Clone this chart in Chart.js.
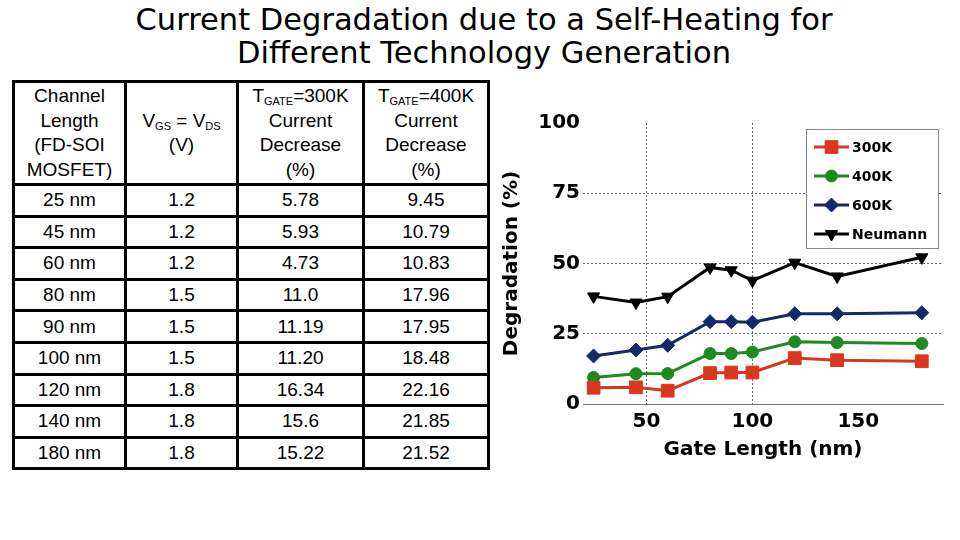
<!DOCTYPE html>
<html>
<head>
<meta charset="utf-8">
<script src="https://cdn.jsdelivr.net/npm/chart.js@4.4.3/dist/chart.umd.min.js"></script>
<style>
  html, body { margin: 0; padding: 0; background: #fff; }
  body { width: 960px; height: 540px; position: relative; overflow: hidden; }
  #title {
    position: absolute; left: 0; top: 3px; width: 968px;
    text-align: center; font-family: "Comic Sans MS", "DejaVu Sans", sans-serif;
    font-size: 30.5px; line-height: 33px; color: #000;
  }
  #tbl {
    position: absolute; left: 12px; top: 80px;
    border-collapse: collapse; font-family: "Liberation Sans", Arial, sans-serif;
    font-size: 19px; color: #000; table-layout: fixed;
  }
  #tbl td, #tbl th {
    border: 3px solid #000; text-align: center; padding: 0; font-weight: normal;
  }
  #tbl th { height: 100px; line-height: 24.5px; vertical-align: middle; }
  #tbl td { height: 28.6px; line-height: 22px; }
  #tbl sub { font-size: 11px; vertical-align: -3px; line-height: 0; }
  #wrap { position: absolute; left: 500px; top: 90px; width: 460px; height: 380px; }
</style>
</head>
<body>
<div id="title">Current Degradation due to a Self-Heating for<br>Different Technology Generation</div>

<table id="tbl">
  <colgroup><col style="width:112px"><col style="width:112px"><col style="width:126px"><col style="width:125px"></colgroup>
  <thead>
    <tr>
      <th>Channel<br>Length<br>(FD-SOI<br>MOSFET)</th>
      <th>V<sub>GS</sub> = V<sub>DS</sub><br>(V)</th>
      <th>T<sub>GATE</sub>=300K<br>Current<br>Decrease<br>(%)</th>
      <th>T<sub>GATE</sub>=400K<br>Current<br>Decrease<br>(%)</th>
    </tr>
  </thead>
  <tbody id="rows"></tbody>
</table>

<div id="wrap"><canvas id="myChart"></canvas></div>

<script>
// table / chart data
const channelLabels = ['25 nm', '45 nm', '60 nm', '80 nm', '90 nm', '100 nm', '120 nm', '140 nm', '180 nm']
const vgsLabels = ['1.2', '1.2', '1.2', '1.5', '1.5', '1.5', '1.8', '1.8', '1.8']
const decrease300Labels = ['5.78', '5.93', '4.73', '11.0', '11.19', '11.20', '16.34', '15.6', '15.22']
const decrease400Labels = ['9.45', '10.79', '10.83', '17.96', '17.95', '18.48', '22.16', '21.85', '21.52']

const gateLength = [25, 45, 60, 80, 90, 100, 120, 140, 180]
const deg300 = [5.78, 5.93, 4.73, 11.0, 11.19, 11.20, 16.34, 15.6, 15.22]
const deg400 = [9.45, 10.79, 10.83, 17.96, 17.95, 18.48, 22.16, 21.85, 21.52]
const deg600 = [17.1, 19.2, 20.9, 29.3, 29.3, 29.1, 32.1, 32.1, 32.5]
const degNeumann = [38.3, 36.1, 38.2, 48.6, 47.6, 43.9, 50.3, 45.4, 52.2]

const xTicks = [50, 100, 150]
const yTicks = [0, 25, 50, 75, 100]

const tbody = document.getElementById('rows')
channelLabels.forEach((c, i) => {
  const tr = document.createElement('tr')
  ;[c, vgsLabels[i], decrease300Labels[i], decrease400Labels[i]].forEach(t => {
    const td = document.createElement('td')
    td.textContent = t
    tr.appendChild(td)
  })
  tbody.appendChild(tr)
})

const font = {family: '"Comic Sans MS", "DejaVu Sans", sans-serif', weight: 'bold', size: 20}

function series(label, values, color, style, radius, rotation) {
  return {
    label: label,
    data: gateLength.map((x, i) => ({x: x, y: values[i]})),
    borderColor: color,
    backgroundColor: color,
    borderWidth: 3,
    pointStyle: style,
    pointRadius: radius,
    pointRotation: rotation,
    pointBorderColor: color,
    pointBackgroundColor: color,
    pointBorderWidth: 1,
    tension: 0
  }
}

const datasets = [
  series('300K', deg300, '#d9381e', 'rect', 9, 0),
  series('400K', deg400, '#1f8a1f', 'circle', 6, 0),
  series('600K', deg600, '#14296b', 'rectRot', 7, 0),
  series('Neumann', degNeumann, '#000000', 'triangle', 7, 180)
]

// legend drawn inside the plot, top right, with line + marker
const insideLegend = {
  id: 'insideLegend',
  afterDatasetsDraw(chart) {
    const ctx = chart.ctx
    const area = chart.chartArea
    const bx = area.right - 137, by = area.top + 6, bw = 132, bh = 119
    ctx.save()
    ctx.fillStyle = '#fff'
    ctx.fillRect(bx, by, bw, bh)
    ctx.strokeStyle = '#888'
    ctx.lineWidth = 1
    ctx.strokeRect(bx + 0.5, by + 0.5, bw, bh)
    chart.data.datasets.forEach((ds, i) => {
      const y = by + 18 + i * 29
      ctx.strokeStyle = ds.borderColor
      ctx.fillStyle = ds.borderColor
      ctx.lineWidth = 3
      ctx.beginPath()
      ctx.moveTo(bx + 8, y)
      ctx.lineTo(bx + 43, y)
      ctx.stroke()
      ctx.lineWidth = 1
      Chart.helpers.drawPoint(ctx, {
        pointStyle: ds.pointStyle, radius: ds.pointRadius,
        rotation: ds.pointRotation, borderWidth: 1
      }, bx + 25.5, y)
      ctx.fillStyle = '#000'
      ctx.font = 'bold 14px "Comic Sans MS", "DejaVu Sans", sans-serif'
      ctx.textBaseline = 'middle'
      ctx.textAlign = 'left'
      ctx.fillText(ds.label, bx + 46, y + 1)
    })
    ctx.restore()
  }
}

new Chart(document.getElementById('myChart'), {
  type: 'line',
  data: {datasets: datasets},
  plugins: [insideLegend],
  options: {
    responsive: true,
    maintainAspectRatio: false,
    animation: false,
    layout: {padding: {left: 0, right: 17, top: 33, bottom: 0}},
    plugins: {legend: {display: false}, tooltip: {enabled: false}},
    scales: {
      x: {
        type: 'linear',
        min: 20,
        max: 190,
        afterBuildTicks: (s) => { s.ticks = xTicks.map(v => ({value: v})) },
        afterFit: (s) => { s.height = 66 },
        ticks: {font: font, color: '#000', padding: 6},
        grid: {
          color: (c) => c.tick && c.tick.value === 150 ? 'rgba(0,0,0,0)' : '#666',
          lineWidth: 1,
          drawTicks: false
        },
        border: {display: true, color: '#777', width: 1, dash: [2, 2]},
        title: {display: true, text: 'Gate Length (nm)', font: font, color: '#000', padding: {top: 0, bottom: 8}}
      },
      y: {
        min: 0,
        max: 100,
        afterBuildTicks: (s) => { s.ticks = yTicks.map(v => ({value: v})) },
        afterFit: (s) => { s.width = 83 },
        ticks: {font: font, color: '#000', padding: 3},
        grid: {
          color: (c) => c.tick && (c.tick.value === 0 || c.tick.value === 100) ? 'rgba(0,0,0,0)' : '#666',
          lineWidth: 1,
          drawTicks: false
        },
        border: {display: false, dash: [2, 2]},
        title: {display: true, text: 'Degradation (%)', font: font, color: '#000', padding: {top: 0, bottom: 0}}
      }
    }
  }
})
</script>
</body>
</html>
